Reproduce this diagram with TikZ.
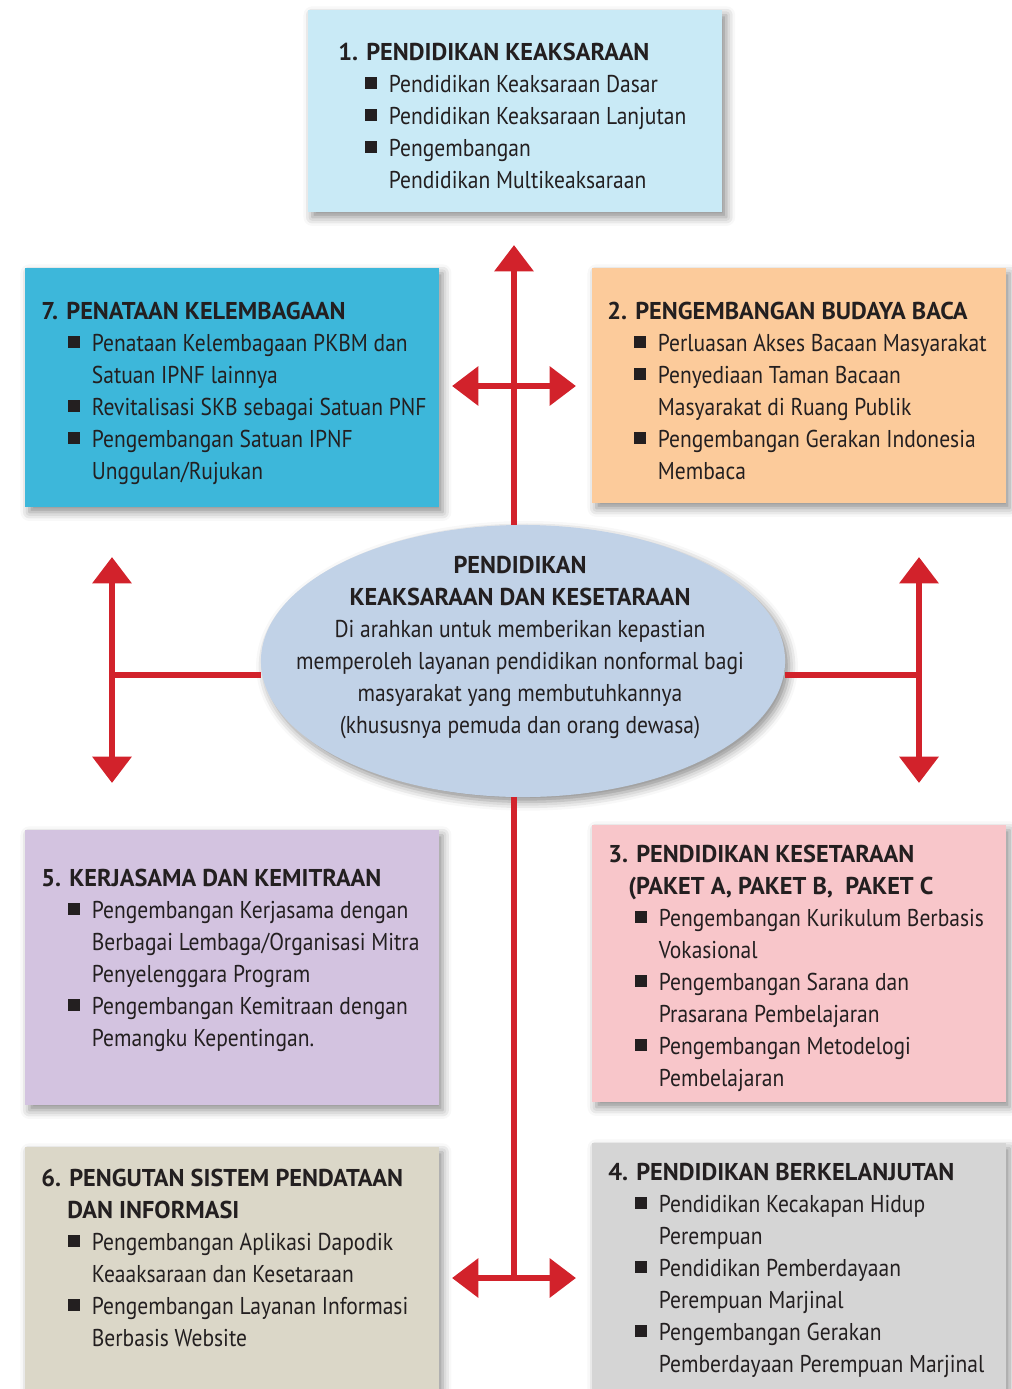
\documentclass[tikz,border=0pt]{standalone}
\usepackage{fontspec}
\setmainfont{PT Sans}[FakeStretch=0.885, BoldFeatures={FakeStretch=1.0}]
\usepackage{tikz}
\usetikzlibrary{arrows.meta, shapes.geometric, shadows.blur}

\definecolor{teks}{HTML}{231F20}
\definecolor{merah}{HTML}{D2222B}
\definecolor{biruMuda}{HTML}{C9EAF6}
\definecolor{biruTua}{HTML}{3DB7DA}
\definecolor{jingga}{HTML}{FCCB9B}
\definecolor{elips}{HTML}{C1D2E7}
\definecolor{ungu}{HTML}{D3C3E0}
\definecolor{merahMuda}{HTML}{F8C6CA}
\definecolor{krem}{HTML}{DBD7C8}
\definecolor{abu}{HTML}{D5D5D5}

\newcommand{\butir}[1]{\hspace*{0.675cm}\rule[0.1cm]{0.29cm}{0.29cm}\hspace{0.3cm}#1}
\newcommand{\lanjut}[1]{\hspace*{1.265cm}#1}

\begin{document}
\begin{tikzpicture}[x=0.025cm, y=-0.025cm,
    >={Triangle[width=0.95cm, length=0.66cm]},
    bayang/.style={blur shadow={shadow xshift=0.1cm, shadow yshift=-0.12cm, shadow blur radius=0.22cm, shadow opacity=45}},
    kotak/.style={rectangle, anchor=north west, inner sep=0pt, minimum width=10.33cm, bayang},
    isi/.style={anchor=north west, align=left, inner sep=0pt, text=teks, font=\fontsize{17.3}{22.76}\selectfont},
    panah/.style={draw=merah, line width=0.17cm}]
    \useasboundingbox (0,0) rectangle (1012,1389);

    \node[kotak, fill=biruMuda, minimum width=10.35cm, minimum height=5.05cm] at (308,10) (keaksaraan) {};
    \node[kotak, fill=biruTua, minimum height=5.975cm] at (25,268) (lembaga) {};
    \node[kotak, fill=jingga, minimum height=5.875cm] at (592,268) (budaya) {};
    \node[kotak, fill=ungu, minimum height=6.875cm] at (25,830) (mitra) {};
    \node[kotak, fill=merahMuda, minimum height=6.925cm] at (592,825) (kesetaraan) {};
    \node[kotak, fill=krem, minimum height=6.5cm] at (25,1147) (data) {};
    \node[kotak, fill=abu, minimum height=6.6cm] at (592,1143) (lanjutan) {};
    \node[ellipse, fill=elips, inner sep=0pt, minimum width=13.1cm, minimum height=6.8cm, bayang] at (523,661) (pusat) {};

    \node[isi] at (338,43) (t1) {\textbf{1. PENDIDIKAN KEAKSARAAN}\\
        \butir{Pendidikan Keaksaraan Dasar}\\
        \butir{Pendidikan Keaksaraan Lanjutan}\\
        \butir{Pengembangan}\\
        \lanjut{Pendidikan Multikeaksaraan}};
    \node[isi] at (41,302) (t7) {\textbf{7. PENATAAN KELEMBAGAAN}\\
        \butir{Penataan Kelembagaan PKBM dan}\\
        \lanjut{Satuan IPNF lainnya}\\
        \butir{Revitalisasi SKB sebagai Satuan PNF}\\
        \butir{Pengembangan Satuan IPNF}\\
        \lanjut{Unggulan/Rujukan}};
    \node[isi] at (607,302) (t2) {\textbf{2. PENGEMBANGAN BUDAYA BACA}\\
        \butir{Perluasan Akses Bacaan Masyarakat}\\
        \butir{Penyediaan Taman Bacaan}\\
        \lanjut{Masyarakat di Ruang Publik}\\
        \butir{Pengembangan Gerakan Indonesia}\\
        \lanjut{Membaca}};
    \node[isi, anchor=north, align=center] at (520,556) (tp) {\textbf{PENDIDIKAN}\\
        \textbf{KEAKSARAAN DAN KESETARAAN}\\
        Di arahkan untuk memberikan kepastian\\
        memperoleh layanan pendidikan nonformal bagi\\
        masyarakat yang membutuhkannya\\
        (khususnya pemuda dan orang dewasa)};
    \node[isi] at (41,869) (t5) {\textbf{5. KERJASAMA DAN KEMITRAAN}\\
        \butir{Pengembangan Kerjasama dengan}\\
        \lanjut{Berbagai Lembaga/Organisasi Mitra}\\
        \lanjut{Penyelenggara Program}\\
        \butir{Pengembangan Kemitraan dengan}\\
        \lanjut{Pemangku Kepentingan.}};
    \node[isi] at (608,845) (t3) {\textbf{3. PENDIDIKAN KESETARAAN}\\
        \hspace*{0.5cm}\textbf{(PAKET A, PAKET B,\ \ PAKET C}\\
        \butir{Pengembangan Kurikulum Berbasis}\\
        \lanjut{Vokasional}\\
        \butir{Pengembangan Sarana dan}\\
        \lanjut{Prasarana Pembelajaran}\\
        \butir{Pengembangan Metodelogi}\\
        \lanjut{Pembelajaran}};
    \node[isi] at (41,1169) (t6) {\textbf{6. PENGUTAN SISTEM PENDATAAN}\\
        \hspace*{0.65cm}\textbf{DAN INFORMASI}\\
        \butir{Pengembangan Aplikasi Dapodik}\\
        \lanjut{Keaaksaraan dan Kesetaraan}\\
        \butir{Pengembangan Layanan Informasi}\\
        \lanjut{Berbasis Website}};
    \node[isi] at (608,1163) (t4) {\textbf{4. PENDIDIKAN BERKELANJUTAN}\\
        \butir{Pendidikan Kecakapan Hidup}\\
        \lanjut{Perempuan}\\
        \butir{Pendidikan Pemberdayaan}\\
        \lanjut{Perempuan Marjinal}\\
        \butir{Pengembangan Gerakan}\\
        \lanjut{Pemberdayaan Perempuan Marjinal}};

    \coordinate (atas) at (514,245);
    \coordinate (silangAtas) at (514,386);
    \coordinate (kiriAtas) at (452,386);
    \coordinate (kananAtas) at (576,386);
    \coordinate (kiri) at (112,675);
    \coordinate (kiriNaik) at (112,557);
    \coordinate (kiriTurun) at (112,783);
    \coordinate (kanan) at (919,675);
    \coordinate (kananNaik) at (919,557);
    \coordinate (kananTurun) at (919,783);
    \coordinate (bawah) at (514,1278);
    \coordinate (kiriBawah) at (452,1278);
    \coordinate (kananBawah) at (576,1278);

    \draw[panah, ->] (pusat.north -| atas) -- (atas);
    \draw[panah, <->] (kiriAtas) -- (kananAtas);
    \draw[panah] (pusat.west |- kiri) -- (kiri);
    \draw[panah, <->] (kiriNaik) -- (kiriTurun);
    \draw[panah] (pusat.east |- kanan) -- (kanan);
    \draw[panah, <->] (kananNaik) -- (kananTurun);
    \draw[panah] (pusat.south -| bawah) -- (bawah);
    \draw[panah, <->] (kiriBawah) -- (kananBawah);
\end{tikzpicture}
\end{document}
